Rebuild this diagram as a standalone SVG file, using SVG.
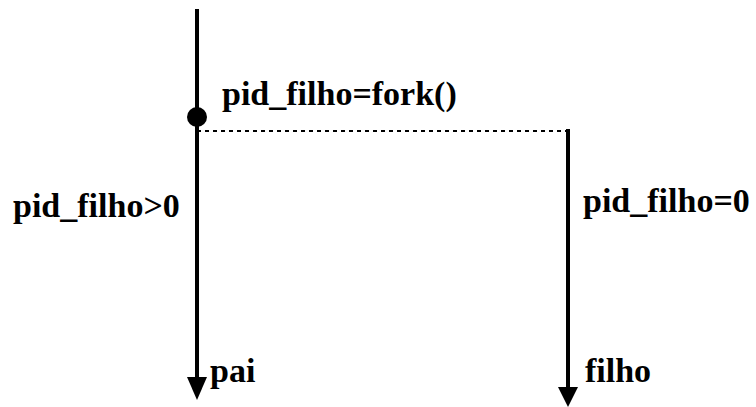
<svg xmlns="http://www.w3.org/2000/svg" width="756" height="407" viewBox="0 0 756 407">
<defs>
<style>
.t{font-family:"Liberation Serif","Times New Roman","DejaVu Serif",serif;font-weight:bold;font-size:34px;fill:#000}
.ln{stroke:#000;stroke-width:4;fill:none}
.ah{fill:#000}
</style>
</defs>
<rect width="756" height="407" fill="#fff"/>
<g id="connectors">
<line class="ln" x1="197" y1="9" x2="197" y2="380"/>
<polygon class="ah" points="187,377 207,377 197,400"/>
<line x1="197" y1="131" x2="568" y2="131" stroke="#000" stroke-width="2" stroke-dasharray="4,4"/>
<line class="ln" x1="568" y1="129" x2="568" y2="390"/>
<polygon class="ah" points="558,387 578,387 568,407"/>
</g>
<g id="fork">
<circle cx="197" cy="117" r="10" fill="#000"/>
<text class="t" x="222" y="105">pid_filho=fork()</text>
</g>
<g id="pai">
<text class="t" x="13" y="217">pid_filho&gt;0</text>
<text class="t" x="210" y="382">pai</text>
</g>
<g id="filho">
<text class="t" x="583" y="212">pid_filho=0</text>
<text class="t" x="585" y="382">filho</text>
</g>
</svg>
